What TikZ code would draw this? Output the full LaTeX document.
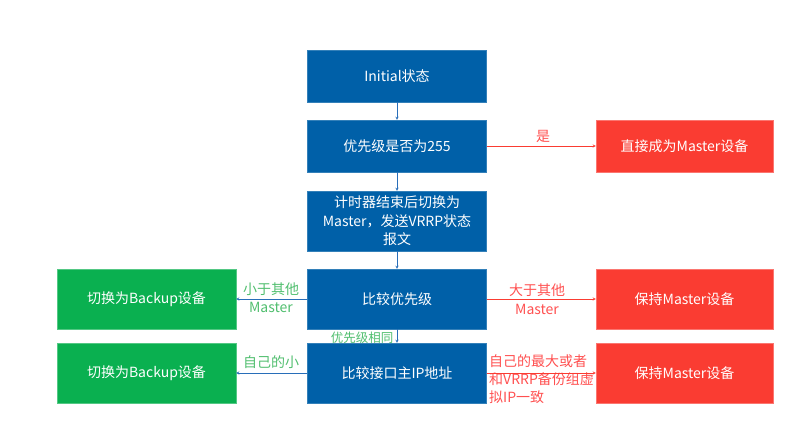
\documentclass[tikz,border=0pt]{standalone}
\usepackage{fontspec}
\setmainfont{Noto Sans CJK SC}
\usetikzlibrary{arrows}

\definecolor{boxblue}{RGB}{0,96,168}
\definecolor{boxred}{RGB}{250,60,50}
\definecolor{boxgreen}{RGB}{10,176,80}
\definecolor{lblred}{RGB}{255,80,80}
\definecolor{lblgreen}{RGB}{80,190,110}
\definecolor{lineblue}{RGB}{40,110,185}

\begin{document}
\begin{tikzpicture}[x=1pt,y=-1pt,
    font=\fontsize{14}{18.5}\selectfont,
    stepbox/.style={draw=boxblue!80!white,fill=boxblue,text=white,minimum width=179pt,minimum height=52pt,inner sep=2pt,align=center},
    redbox/.style={draw=boxred!70!white,fill=boxred,text=white,minimum width=177pt,minimum height=52pt},
    greenbox/.style={draw=boxgreen!70!white,fill=boxgreen,text=white,minimum width=179pt,minimum height=60pt},
    redline/.style={draw=boxred,-stealth},
    blueline/.style={draw=lineblue,-stealth},
    redlbl/.style={text=lblred,inner sep=1pt},
    greenlbl/.style={text=lblgreen,inner sep=1pt}]
    \useasboundingbox (0,0) rectangle (797,420);
                        % centre column
                        \node[stepbox] (init) at (397,76) {Initial状态};
                        \node[stepbox] (prio) at (397,146) {优先级是否为255};
                        \node[stepbox,minimum height=60pt] (timer) at (397,221) {计时器结束后切换为\\Master，发送VRRP状态\\报文};
                        \node[stepbox,minimum height=60pt] (cmp) at (397,299) {比较优先级};
                        \node[stepbox,minimum height=60pt] (cmpip) at (397,373) {比较接口主IP地址};
                        % right side
                        \node[redbox] (master) at (684.5,146) {直接成为Master设备};
                        \node[redbox,minimum height=60pt] (keep1) at (684.5,299) {保持Master设备};
                        % left side
                        \node[greenbox] (backup1) at (146.5,299) {切换为Backup设备};
                        \node[greenbox] (backup2) at (146.5,373) {切换为Backup设备};
                        % labels
                        \node[redlbl] (yes) at (543,136) {是};
                        \node[redlbl] (big) at (537,290) {大于其他};
                        \node[redlbl] (bigm) at (537,309) {Master};
                        \node[greenlbl] (small) at (271,289) {小于其他};
                        \node[greenlbl] (smallm) at (271,307) {Master};
                        \node[greenlbl] (own) at (271,362) {自己的小};
                        \node[greenlbl,font=\fontsize{12.5}{15}\selectfont] (same) at (362,338) {优先级相同};
                        \node[redlbl,anchor=west] (maxa) at (488,361) {自己的最大或者};
                        \node[redlbl,anchor=north west,align=left] (maxb) at (488,371) {和VRRP备份组虚\\拟IP一致};
                        \node[redbox,minimum height=60pt] (keep2) at (684.5,373) {保持Master设备};
                        \path
                        (init) edge[blueline] (prio)
                        (prio) edge[blueline] (timer)
                        (timer) edge[blueline] (cmp)
                        (cmp) edge[blueline] (cmpip)
                        (prio) edge[redline] (master)
                        (cmp) edge[redline] (keep1)
                        (cmpip) edge[redline] (keep2)
                        (cmp) edge[blueline] (backup1)
                        (cmpip) edge[blueline] (backup2);
                        \end{tikzpicture}
\end{document}
